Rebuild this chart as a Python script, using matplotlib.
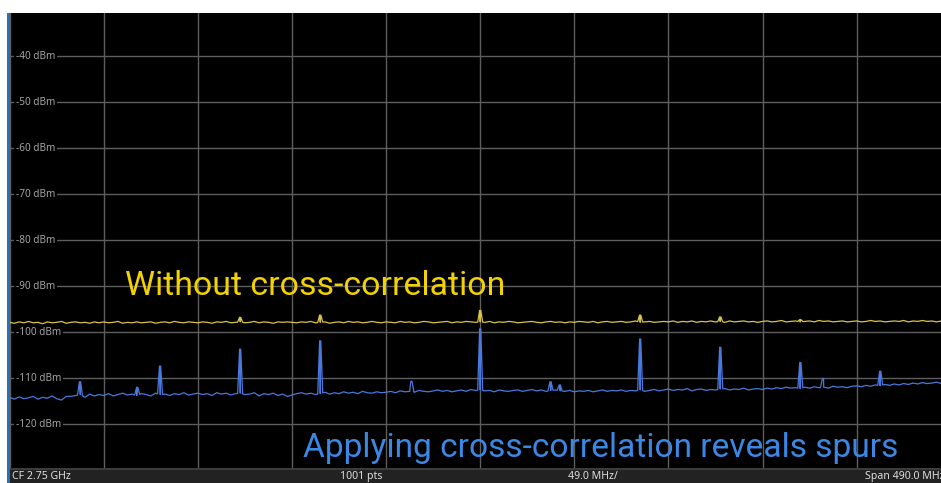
import numpy as np
import matplotlib
matplotlib.use("Agg")
import matplotlib.pyplot as plt
from matplotlib.patches import Rectangle
from matplotlib.transforms import blended_transform_factory

# ---------------- data ----------------
start_freq_mhz = 2505.0
stop_freq_mhz = 2995.0
freq_per_div = 49.0
ref_top_dbm = -30.65
ref_bottom_dbm = -130.0
y_tick_levels = [-120, -110, -100, -90, -80, -70, -60, -50, -40]
y_tick_labels = ["-120 dBm", "-110 dBm", "-100 dBm", "-90 dBm", "-80 dBm",
                 "-70 dBm", "-60 dBm", "-50 dBm", "-40 dBm"]

# trace without cross-correlation (noise floor samples, 201 points over span)
yellow_noise = [
    -97.9, -98.1, -97.8, -98.0, -97.7, -98.0, -97.9, -98.2, -97.8, -98.0, -97.9, -97.7, -98.1, -97.9, -97.8, -98.0, -97.9, -98.1, -97.8, -98.0,
    -97.8, -98.0, -97.9, -97.7, -98.1, -97.9, -98.0, -97.8, -98.0, -97.9, -97.8, -98.1, -97.9, -97.8, -98.0, -97.7, -97.9, -98.0, -97.8, -97.9,
    -98.0, -97.8, -97.9, -98.1, -97.8, -97.9, -97.7, -98.0, -97.9, -97.8, -98.0, -97.9, -97.7, -98.0, -97.8, -97.9, -98.1, -97.8, -97.9, -97.8,
    -97.9, -98.0, -97.8, -97.9, -97.7, -98.0, -97.9, -97.8, -98.1, -97.9, -97.8, -98.0, -97.7, -97.9, -97.8, -98.0, -97.9, -97.7, -97.9, -98.0,
    -97.8, -97.9, -98.0, -97.7, -97.9, -97.8, -98.0, -97.9, -97.7, -97.8, -98.0, -97.9, -97.8, -97.7, -98.0, -97.8, -97.9, -97.7, -97.8, -97.9,
    -97.8, -97.9, -97.7, -98.0, -97.8, -97.9, -97.7, -97.8, -98.0, -97.9, -97.8, -97.7, -97.9, -98.0, -97.8, -97.7, -97.9, -97.8, -98.0, -97.8,
    -97.9, -97.7, -97.8, -97.9, -97.7, -98.0, -97.8, -97.7, -97.9, -97.8, -97.7, -97.9, -97.8, -97.6, -97.9, -97.8, -97.7, -97.9, -97.8, -97.7,
    -97.8, -97.6, -97.9, -97.7, -97.8, -97.6, -97.9, -97.7, -97.8, -97.6, -97.8, -97.7, -97.9, -97.6, -97.8, -97.7, -97.6, -97.8, -97.7, -97.9,
    -97.7, -97.6, -97.8, -97.7, -97.5, -97.8, -97.7, -97.6, -97.8, -97.7, -97.6, -97.8, -97.5, -97.7, -97.6, -97.8, -97.7, -97.6, -97.8, -97.7,
    -97.6, -97.8, -97.7, -97.5, -97.7, -97.6, -97.8, -97.7, -97.6, -97.7, -97.5, -97.8, -97.6, -97.7, -97.5, -97.7, -97.6, -97.8, -97.6, -97.7,
    -97.6,
]
yellow_spur_freqs = [2625.0, 2666.7, 2750.0, 2833.3, 2875.0, 2916.7]
yellow_spur_levels = [-96.8, -96.3, -95.3, -96.3, -96.7, -97.3]

# trace with cross-correlation (noise floor samples, 201 points over span)
blue_noise = [
    -114.2, -114.6, -114.1, -114.5, -114.3, -114.0, -114.6, -114.2, -114.4, -113.9, -114.5, -114.8, -114.0, -114.0, -113.8, -113.6, -114.2, -113.5, -113.9, -113.6,
    -113.8, -113.4, -113.9, -113.6, -113.3, -113.7, -113.5, -113.8, -113.4, -113.6, -113.9, -113.3, -113.6, -113.5, -113.8, -113.4, -113.6, -113.2, -113.7, -113.5,
    -113.3, -113.6, -113.4, -113.8, -113.2, -113.5, -113.3, -113.7, -113.4, -113.3, -113.6, -113.5, -113.2, -113.9, -113.4, -113.6, -113.3, -113.8, -113.5, -114.0,
    -113.7, -113.4, -113.2, -113.5, -113.3, -113.6, -113.4, -113.1, -113.5, -113.2, -113.4, -113.0, -113.3, -113.1, -113.4, -112.9, -113.2, -113.3, -113.0, -113.2,
    -113.1, -112.9, -113.2, -112.8, -113.0, -112.9, -113.1, -112.7, -112.9, -113.0, -112.8, -112.6, -112.9, -112.7, -113.0, -112.8, -112.6, -112.9, -112.5, -112.7,
    -112.6, -112.8, -112.7, -113.0, -112.6, -112.8, -112.9, -112.7, -112.6, -112.9, -112.7, -112.5, -112.8, -112.6, -112.9, -112.7, -112.6, -112.8, -112.9, -112.7,
    -113.0, -112.8, -112.9, -112.7, -113.0, -112.8, -112.6, -112.9, -112.7, -112.8, -112.6, -112.9, -112.7, -112.8, -112.6, -112.9, -112.7, -112.5, -112.8, -112.6,
    -112.4, -112.7, -112.5, -112.6, -112.3, -112.8, -112.5, -112.4, -112.7, -112.5, -112.6, -112.4, -112.3, -112.6, -112.4, -112.5, -112.2, -112.6, -112.4, -112.3,
    -112.5, -112.2, -112.4, -112.1, -112.3, -112.0, -112.2, -112.1, -112.3, -112.0, -112.2, -111.9, -112.1, -112.0, -112.2, -111.8, -112.0, -111.9, -112.1, -111.8,
    -111.7, -111.9, -111.6, -111.8, -111.5, -111.7, -111.4, -111.6, -111.3, -111.5, -111.2, -111.4, -111.1, -111.3, -111.0, -111.2, -111.1, -110.9, -111.2, -111.0,
    -111.1,
]
blue_spur_freqs = [2541.6, 2571.4, 2583.3, 2625.0, 2666.7, 2714.2, 2750.0,
                   2786.6, 2791.4, 2833.3, 2875.0, 2916.7, 2928.5, 2958.3]
blue_spur_levels = [-110.8, -112.0, -107.4, -103.7, -101.9, -110.7, -99.3,
                    -110.8, -111.5, -101.5, -103.3, -106.6, -110.1, -108.5]

footer_labels = ["CF 2.75 GHz", "1001 pts", "49.0 MHz/", "Span 490.0 MHz"]

# ---------------- drawing ----------------
W, H = 941, 483
fig = plt.figure(figsize=(W / 100, H / 100), dpi=100, facecolor="white")

ax_left_px, ax_right_px = 9.7, 950.7
ax_top_px, ax_bot_px = 13.0, 470.0
ax = fig.add_axes([ax_left_px / W, 1 - ax_bot_px / H,
                   (ax_right_px - ax_left_px) / W, (ax_bot_px - ax_top_px) / H])
ax.set_facecolor("black")
ax.set_xlim(start_freq_mhz, stop_freq_mhz)
ax.set_ylim(ref_bottom_dbm, ref_top_dbm)
for s in ax.spines.values():
    s.set_visible(False)

xt = np.arange(start_freq_mhz, stop_freq_mhz + 0.1, freq_per_div)
ax.set_xticks(xt)
ax.set_yticks(y_tick_levels)
ax.tick_params(left=False, bottom=False, labelleft=False, labelbottom=False)
ax.grid(True, color="#5e5e5e", linewidth=1.0)
ax.set_axisbelow(True)

# y labels drawn inside plot over the grid
tr = blended_transform_factory(ax.transAxes, ax.transData)
for lev, lab in zip(y_tick_levels, y_tick_labels):
    ax.text(6.0 / (ax_right_px - ax_left_px), lev, lab, transform=tr,
            ha="left", va="center", fontsize=7.2, color="#a4a4a4",
            family=["Noto Sans", "DejaVu Sans"],
            bbox=dict(facecolor="black", edgecolor="none", pad=1.2), zorder=3)


def build_trace(noise, spur_f, spur_l):
    f = np.linspace(start_freq_mhz, stop_freq_mhz, len(noise))
    n = np.array(noise)
    xs = list(f)
    ys = list(n)
    for sf, sl in zip(spur_f, spur_l):
        for df in (-1.3, 1.3):
            xs.append(sf + df)
            ys.append(float(np.interp(sf + df, f, n)))
        xs.append(sf - 0.3)
        ys.append(sl)
        xs.append(sf + 0.3)
        ys.append(sl)
    order = np.argsort(xs)
    return np.array(xs)[order], np.array(ys)[order]


yx, yy = build_trace(yellow_noise, yellow_spur_freqs, yellow_spur_levels)
bx, by = build_trace(blue_noise, blue_spur_freqs, blue_spur_levels)
ax.plot(yx, yy, color="#d9c24a", linewidth=0.9, zorder=4)
ax.plot(bx, by, color="#4a78dc", linewidth=0.9, zorder=4)

big_family = ["Roboto", "DejaVu Sans"]
ax.text(2565.1, -92.0, "Without cross-correlation", color="#f2d200",
        fontsize=24.4, ha="left", va="baseline", family=big_family, zorder=5)
ax.text(2657.7, -127.2, "Applying cross-correlation reveals spurs", color="#3a88e4",
        fontsize=24.1, ha="left", va="baseline", family=big_family, zorder=5)

# footer bar
fig.patches.append(Rectangle((10 / W, 0), 1, 14 / H, transform=fig.transFigure,
                             facecolor="#222222", edgecolor="none", zorder=1))
fig.patches.append(Rectangle((10 / W, 13.5 / H), 1, 1.2 / H, transform=fig.transFigure,
                             facecolor="#3c3c3c", edgecolor="none", zorder=2))
# left blue bar
fig.patches.append(Rectangle((7 / W, 0), 3 / W, (H - 13) / H, transform=fig.transFigure,
                             facecolor="#2c6fb8", edgecolor="none", zorder=2))

for lab, xpx in zip(footer_labels, [12, 340, 568, 865]):
    fig.text(xpx / W, 6.5 / H, lab, ha="left", va="center", fontsize=7.6,
             color="#dedede", family=["Noto Sans", "DejaVu Sans"])

fig.savefig("out.png", dpi=100, facecolor="white")
